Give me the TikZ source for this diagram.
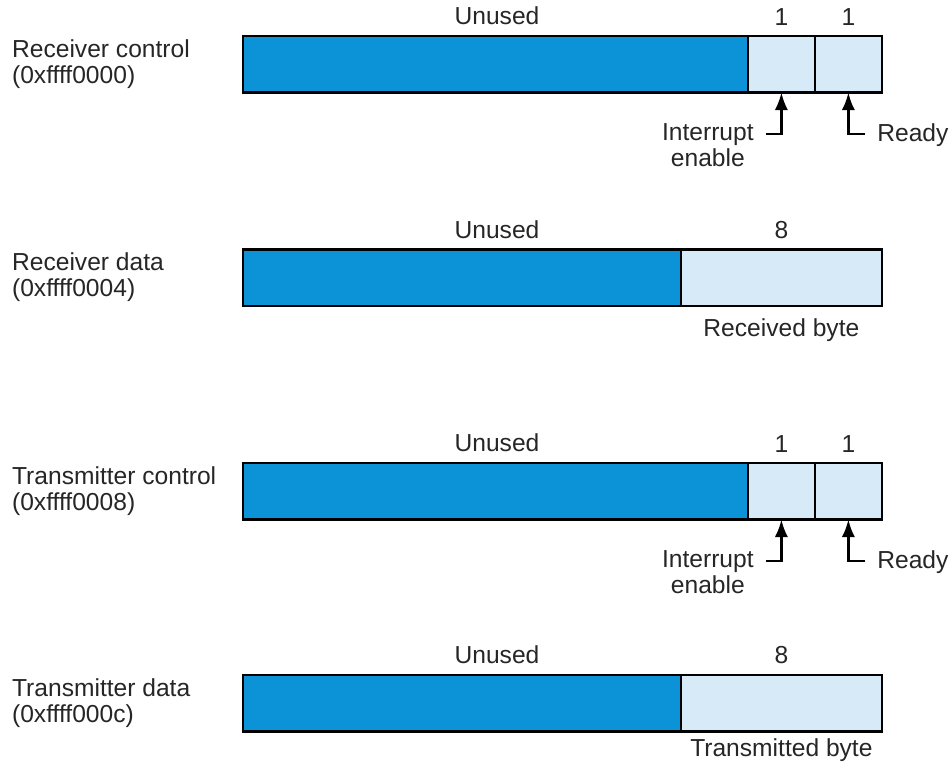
\documentclass[tikz,border=0pt]{standalone}
\usepackage{fontspec}
\setmainfont{Liberation Sans}
\usepackage{xcolor}
\usetikzlibrary{positioning}
\usetikzlibrary{arrows.meta}
\definecolor{regdark}{RGB}{12,146,214}
\definecolor{reglight}{RGB}{214,234,248}

\begin{document}
\begin{tikzpicture}[x=0.02cm, y=-0.02cm,
    lbl/.style={inner sep=1pt, text=black!85, font=\fontsize{14}{15}\selectfont},
    unused/.style={draw, line width=1.3pt, fill=regdark, minimum height=1.13cm, inner sep=0pt, outer sep=0pt, anchor=north west},
    field/.style={draw, line width=1.3pt, fill=reglight, minimum height=1.13cm, inner sep=0pt, outer sep=0pt},
    arr/.style={line width=1.4pt, -{Latex[length=10pt, width=7.5pt]}}]
  \useasboundingbox (0,0) rectangle (951,763);

  \node[unused, minimum width=10.1cm] (rcu) at (243,36) {};
  \node[field, minimum width=1.34cm, right=0pt of rcu] (rcie) {};
  \node[field, minimum width=1.34cm, right=0pt of rcie] (rcrd) {};
  \node[lbl, align=left, anchor=west] (rclbl) at (10,64) {Receiver control\\(0xffff0000)};
  \node[lbl] (rcun) at (497,16) {Unused};
  \node[lbl, above=5pt of rcie] (rcn1) {1};
  \node[lbl, above=5pt of rcrd] (rcn2) {1};
  \coordinate (rcc1) at (766,134);
  \coordinate (rcc2) at (865,134);
  \node[lbl, inner sep=0pt, align=center, anchor=north east] (rcint) at (754,123) {Interrupt\\enable};
  \node[lbl, inner sep=0pt, anchor=north west] (rcrdy) at (877,123) {Ready};
  \draw[arr] (rcc1) -| (rcie.south);
  \draw[arr] (rcc2) -| (rcrd.south);

  \node[unused, minimum width=8.76cm] (rdu) at (243,249.5) {};
  \node[field, minimum width=4.02cm, right=0pt of rdu] (rdby) {};
  \node[lbl, align=left, anchor=west] (rdlbl) at (10,277) {Receiver data\\(0xffff0004)};
  \node[lbl] (rdun) at (497,230) {Unused};
  \node[lbl, above=5pt of rdby] (rdn) {8};
  \node[lbl, below=6pt of rdby] (rdtxt) {Received byte};

  \node[unused, minimum width=10.1cm] (tcu) at (243,463) {};
  \node[field, minimum width=1.34cm, right=0pt of tcu] (tcie) {};
  \node[field, minimum width=1.34cm, right=0pt of tcie] (tcrd) {};
  \node[lbl, align=left, anchor=west] (tclbl) at (10,491) {Transmitter control\\(0xffff0008)};
  \node[lbl] (tcun) at (497,443) {Unused};
  \node[lbl, above=5pt of tcie] (tcn1) {1};
  \node[lbl, above=5pt of tcrd] (tcn2) {1};
  \coordinate (tcc1) at (766,561);
  \coordinate (tcc2) at (865,561);
  \node[lbl, inner sep=0pt, align=center, anchor=north east] (tcint) at (754,550) {Interrupt\\enable};
  \node[lbl, inner sep=0pt, anchor=north west] (tcrdy) at (877,550) {Ready};
  \draw[arr] (tcc1) -| (tcie.south);
  \draw[arr] (tcc2) -| (tcrd.south);

  \node[unused, minimum width=8.76cm] (tdu) at (243,675) {};
  \node[field, minimum width=4.02cm, right=0pt of tdu] (tdby) {};
  \node[lbl, align=left, anchor=west] (tdlbl) at (10,703) {Transmitter data\\(0xffff000c)};
  \node[lbl] (tdun) at (497,655) {Unused};
  \node[lbl, above=5pt of tdby] (tdn) {8};
  \node[lbl, below=3pt of tdby] (tdtxt) {Transmitted byte};
\end{tikzpicture}
\end{document}
